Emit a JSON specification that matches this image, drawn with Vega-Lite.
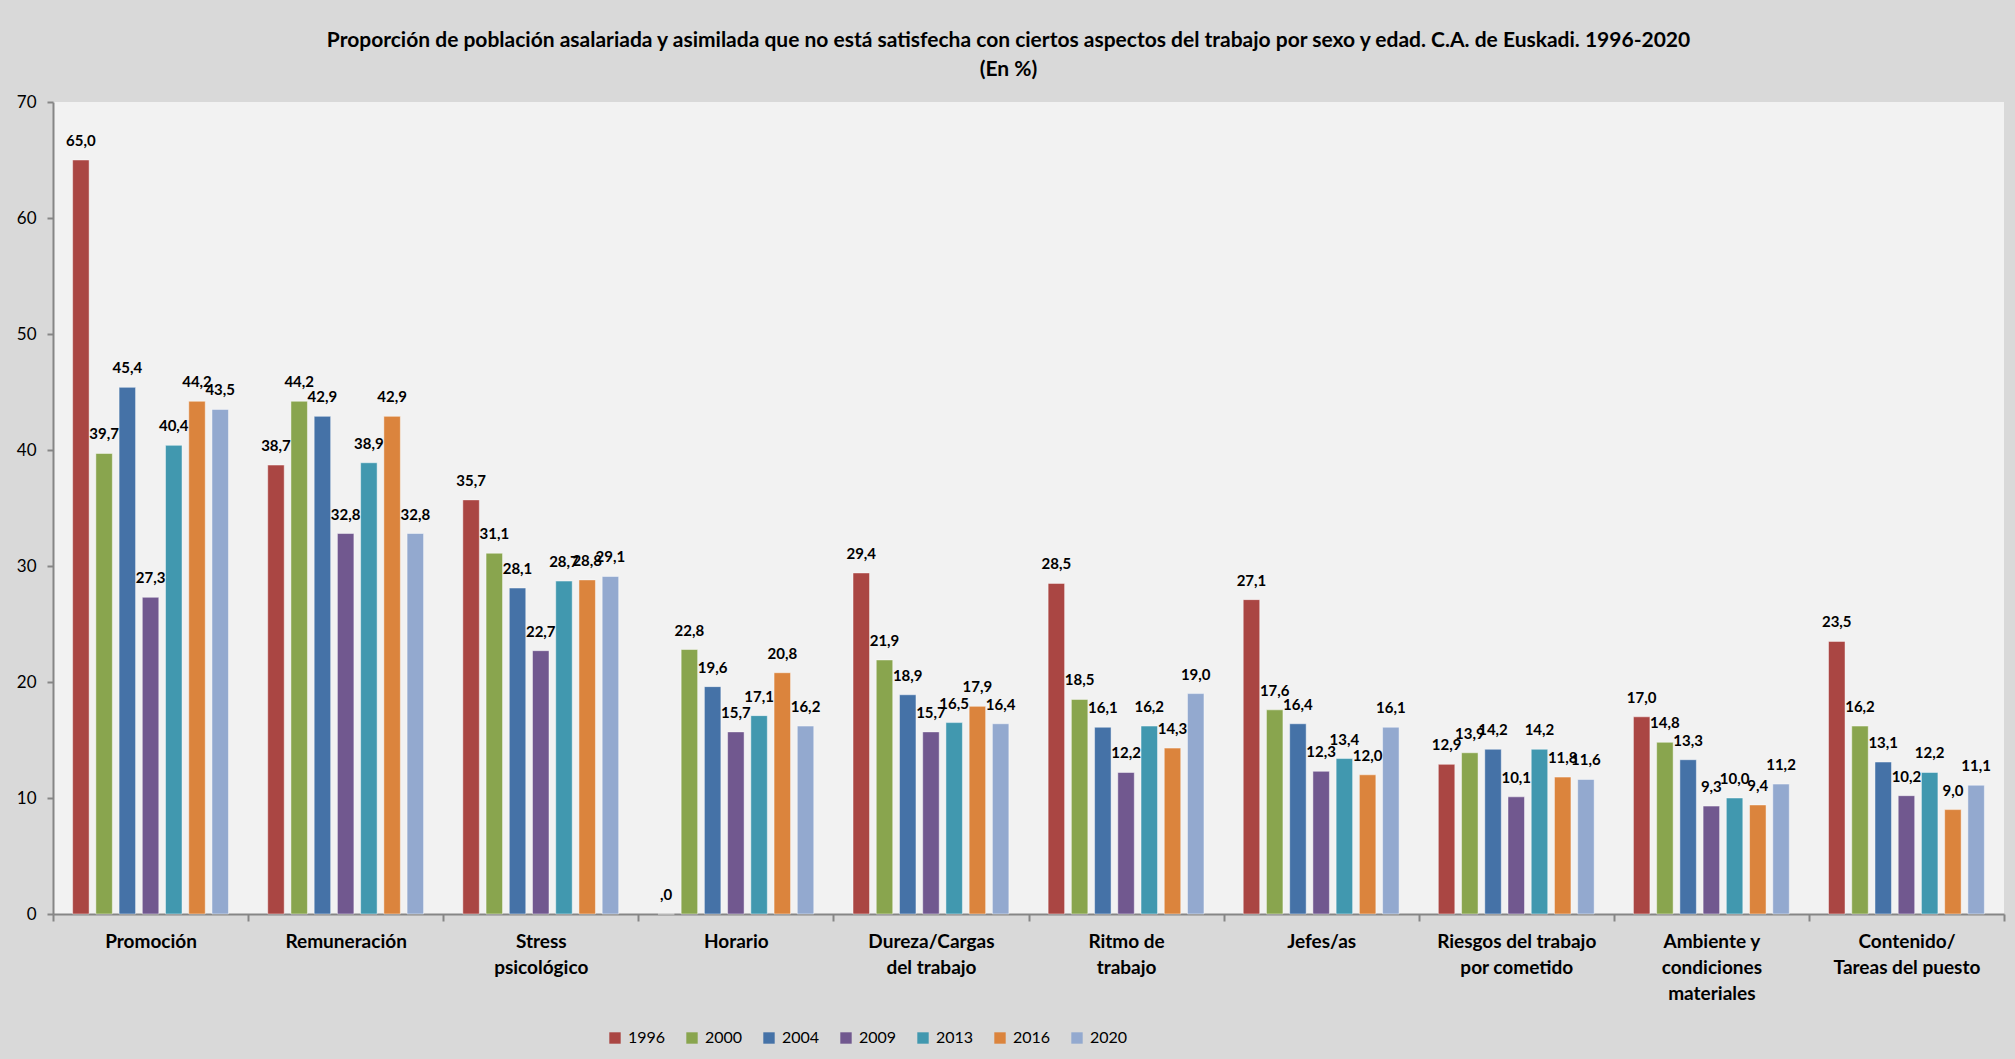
{
  "$schema": "https://vega.github.io/schema/vega-lite/v6.json",
  "autosize": {"type": "none"},
  "padding": {"left": 53, "top": 102, "right": 11, "bottom": 145},
  "width": 1951,
  "height": 812,
  "background": "#d9d9d9",
  "title": {
    "text": ["Proporción de población asalariada y asimilada que no está satisfecha con ciertos aspectos del trabajo  por sexo y edad. C.A. de Euskadi. 1996-2020", "(En %)"],
    "font": "Lato",
    "fontSize": 21,
    "fontWeight": "bold",
    "color": "#000000",
    "anchor": "middle",
    "dx": -20,
    "offset": 13,
    "lineHeight": 29
  },
  "config": {
    "view": {"fill": "#f2f2f2", "stroke": null},
    "font": "Lato"
  },
  "data": {
    "values": [
      {"c": "Promoción", "y": "1996", "v": 65.0}, {"c": "Promoción", "y": "2000", "v": 39.7}, {"c": "Promoción", "y": "2004", "v": 45.4}, {"c": "Promoción", "y": "2009", "v": 27.3}, {"c": "Promoción", "y": "2013", "v": 40.4}, {"c": "Promoción", "y": "2016", "v": 44.2}, {"c": "Promoción", "y": "2020", "v": 43.5},
      {"c": "Remuneración", "y": "1996", "v": 38.7}, {"c": "Remuneración", "y": "2000", "v": 44.2}, {"c": "Remuneración", "y": "2004", "v": 42.9}, {"c": "Remuneración", "y": "2009", "v": 32.8}, {"c": "Remuneración", "y": "2013", "v": 38.9}, {"c": "Remuneración", "y": "2016", "v": 42.9}, {"c": "Remuneración", "y": "2020", "v": 32.8},
      {"c": "Stress psicológico", "y": "1996", "v": 35.7}, {"c": "Stress psicológico", "y": "2000", "v": 31.1}, {"c": "Stress psicológico", "y": "2004", "v": 28.1}, {"c": "Stress psicológico", "y": "2009", "v": 22.7}, {"c": "Stress psicológico", "y": "2013", "v": 28.7}, {"c": "Stress psicológico", "y": "2016", "v": 28.8}, {"c": "Stress psicológico", "y": "2020", "v": 29.1},
      {"c": "Horario", "y": "1996", "v": 0}, {"c": "Horario", "y": "2000", "v": 22.8}, {"c": "Horario", "y": "2004", "v": 19.6}, {"c": "Horario", "y": "2009", "v": 15.7}, {"c": "Horario", "y": "2013", "v": 17.1}, {"c": "Horario", "y": "2016", "v": 20.8}, {"c": "Horario", "y": "2020", "v": 16.2},
      {"c": "Dureza/Cargas del trabajo", "y": "1996", "v": 29.4}, {"c": "Dureza/Cargas del trabajo", "y": "2000", "v": 21.9}, {"c": "Dureza/Cargas del trabajo", "y": "2004", "v": 18.9}, {"c": "Dureza/Cargas del trabajo", "y": "2009", "v": 15.7}, {"c": "Dureza/Cargas del trabajo", "y": "2013", "v": 16.5}, {"c": "Dureza/Cargas del trabajo", "y": "2016", "v": 17.9}, {"c": "Dureza/Cargas del trabajo", "y": "2020", "v": 16.4},
      {"c": "Ritmo de trabajo", "y": "1996", "v": 28.5}, {"c": "Ritmo de trabajo", "y": "2000", "v": 18.5}, {"c": "Ritmo de trabajo", "y": "2004", "v": 16.1}, {"c": "Ritmo de trabajo", "y": "2009", "v": 12.2}, {"c": "Ritmo de trabajo", "y": "2013", "v": 16.2}, {"c": "Ritmo de trabajo", "y": "2016", "v": 14.3}, {"c": "Ritmo de trabajo", "y": "2020", "v": 19.0},
      {"c": "Jefes/as", "y": "1996", "v": 27.1}, {"c": "Jefes/as", "y": "2000", "v": 17.6}, {"c": "Jefes/as", "y": "2004", "v": 16.4}, {"c": "Jefes/as", "y": "2009", "v": 12.3}, {"c": "Jefes/as", "y": "2013", "v": 13.4}, {"c": "Jefes/as", "y": "2016", "v": 12.0}, {"c": "Jefes/as", "y": "2020", "v": 16.1},
      {"c": "Riesgos del trabajo por cometido", "y": "1996", "v": 12.9}, {"c": "Riesgos del trabajo por cometido", "y": "2000", "v": 13.9}, {"c": "Riesgos del trabajo por cometido", "y": "2004", "v": 14.2}, {"c": "Riesgos del trabajo por cometido", "y": "2009", "v": 10.1}, {"c": "Riesgos del trabajo por cometido", "y": "2013", "v": 14.2}, {"c": "Riesgos del trabajo por cometido", "y": "2016", "v": 11.8}, {"c": "Riesgos del trabajo por cometido", "y": "2020", "v": 11.6},
      {"c": "Ambiente y condiciones materiales", "y": "1996", "v": 17.0}, {"c": "Ambiente y condiciones materiales", "y": "2000", "v": 14.8}, {"c": "Ambiente y condiciones materiales", "y": "2004", "v": 13.3}, {"c": "Ambiente y condiciones materiales", "y": "2009", "v": 9.3}, {"c": "Ambiente y condiciones materiales", "y": "2013", "v": 10.0}, {"c": "Ambiente y condiciones materiales", "y": "2016", "v": 9.4}, {"c": "Ambiente y condiciones materiales", "y": "2020", "v": 11.2},
      {"c": "Contenido/ Tareas del puesto", "y": "1996", "v": 23.5}, {"c": "Contenido/ Tareas del puesto", "y": "2000", "v": 16.2}, {"c": "Contenido/ Tareas del puesto", "y": "2004", "v": 13.1}, {"c": "Contenido/ Tareas del puesto", "y": "2009", "v": 10.2}, {"c": "Contenido/ Tareas del puesto", "y": "2013", "v": 12.2}, {"c": "Contenido/ Tareas del puesto", "y": "2016", "v": 9.0}, {"c": "Contenido/ Tareas del puesto", "y": "2020", "v": 11.1}
    ]
  },
  "transform": [
    {"calculate": "datum.v == 0 ? ',0' : replace(format(datum.v, '.1f'), '.', ',')", "as": "lbl"}
  ],
  "encoding": {
    "x": {
      "field": "c",
      "type": "nominal",
      "sort": null,
      "scale": {"paddingInner": 0, "paddingOuter": 0},
      "axis": {
        "title": null,
        "labelAngle": 0,
        "tickBand": "extent",
        "domainColor": "#868686",
        "domainWidth": 2,
        "tickColor": "#868686",
        "tickWidth": 2,
        "tickSize": 7,
        "labelFont": "Lato",
        "labelFontSize": 19,
        "labelFontWeight": "bold",
        "labelColor": "#000000",
        "labelPadding": 11,
        "labelLineHeight": 26,
        "labelBaseline": "top",
        "labelExpr": "datum.value == 'Stress psicológico' ? ['Stress','psicológico'] : datum.value == 'Dureza/Cargas del trabajo' ? ['Dureza/Cargas','del trabajo'] : datum.value == 'Ritmo de trabajo' ? ['Ritmo de','trabajo'] : datum.value == 'Riesgos del trabajo por cometido' ? ['Riesgos del trabajo','por cometido'] : datum.value == 'Ambiente y condiciones materiales' ? ['Ambiente y','condiciones','materiales'] : datum.value == 'Contenido/ Tareas del puesto' ? ['Contenido/','Tareas del puesto'] : datum.label"
      }
    },
    "xOffset": {
      "field": "y",
      "type": "nominal",
      "scale": {"paddingInner": 0.29, "paddingOuter": 0.845}
    },
    "y": {
      "field": "v",
      "type": "quantitative",
      "scale": {"domain": [0, 70], "nice": false, "zero": true},
      "axis": {
        "title": null,
        "values": [0, 10, 20, 30, 40, 50, 60, 70],
        "grid": false,
        "domainColor": "#868686",
        "domainWidth": 2,
        "tickColor": "#868686",
        "tickWidth": 2,
        "tickSize": 6,
        "labelFont": "Lato",
        "labelFontSize": 17,
        "labelColor": "#000000",
        "labelPadding": 11
      }
    }
  },
  "layer": [
    {
      "mark": {"type": "bar", "stroke": "#ffffff", "strokeOpacity": 0.45, "strokeWidth": 1},
      "encoding": {
        "color": {
          "field": "y",
          "type": "nominal",
          "scale": {
            "domain": ["1996", "2000", "2004", "2009", "2013", "2016", "2020"],
            "range": ["#AA4643", "#89A54E", "#4572A7", "#71588F", "#4198AF", "#DB843D", "#93A9CF"]
          },
          "legend": {
            "title": null,
            "orient": "none",
            "direction": "horizontal",
            "legendX": 554,
            "legendY": 928,
            "symbolType": "square",
            "symbolSize": 130,
            "symbolStrokeWidth": 0,
            "symbolOpacity": 1,
            "labelFont": "Lato",
            "labelFontSize": 16,
            "labelColor": "#000000",
            "labelOffset": 5,
            "columnPadding": 18
          }
        }
      }
    },
    {
      "mark": {"type": "text", "baseline": "bottom", "dy": -11, "font": "Lato", "fontSize": 15, "fontWeight": "bold", "color": "#000000"},
      "encoding": {
        "text": {"field": "lbl", "type": "nominal"}
      }
    }
  ]
}
